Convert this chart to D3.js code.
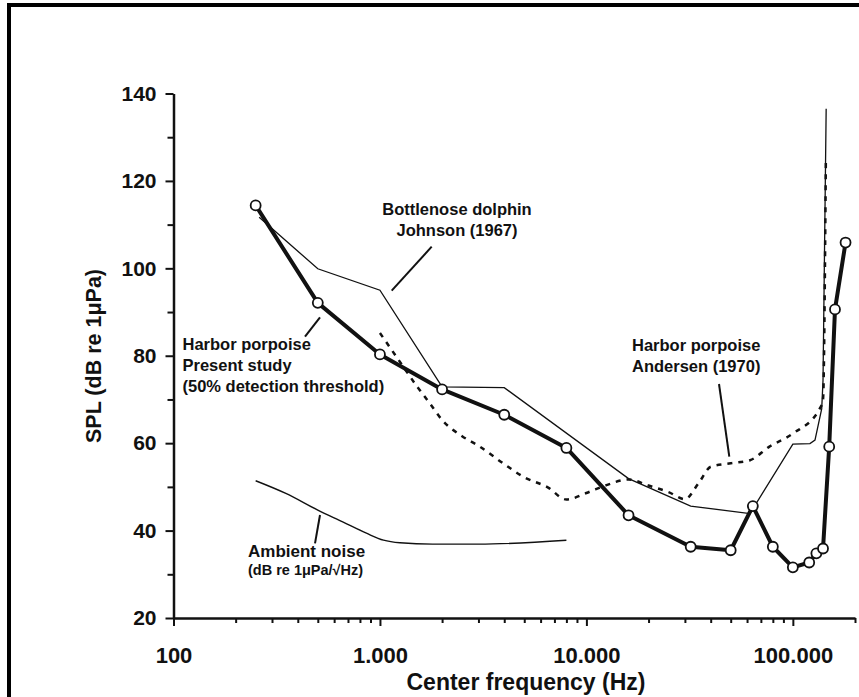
<!DOCTYPE html>
<html>
<head>
<meta charset="utf-8">
<script src="https://cdn.jsdelivr.net/npm/d3@7"></script>
<style>
  body { margin: 0; background: #fff; }
  text { font-family: "Liberation Sans", Arial, sans-serif; font-weight: bold; fill: #111; }
</style>
</head>
<body>
<div id="chart"></div>
<script>
// Harbor porpoise, present study (50% detection threshold)
var studyFreq = [250, 500, 1000, 2000, 4000, 8000, 16000, 32000, 50000, 64000, 80000, 100000, 120000, 130000, 140000, 150000, 160000, 180000];
var studySPL = [114.4, 92.1, 80.3, 72.3, 66.5, 58.9, 43.5, 36.3, 35.5, 45.6, 36.3, 31.6, 32.7, 34.8, 35.9, 59.2, 90.6, 105.9];

// Bottlenose dolphin, Johnson (1967)
var johnsonFreq = [260, 500, 1000, 2000, 4000, 16000, 32000, 62000, 100000, 121000, 128000, 138000, 140000, 145000];
var johnsonSPL = [111.7, 99.9, 95, 72.9, 72.7, 51.9, 45.6, 43.9, 59.8, 59.9, 60.7, 67.9, 74.4, 136.5];

// Harbor porpoise, Andersen (1970)
var andersenFreq = [1000, 1250, 1500, 1750, 2000, 2500, 3000, 4000, 5000, 6500, 8000, 10000, 12500, 16000, 20000, 25000, 30000, 35000, 40000, 50000, 62000, 77000, 100000, 135000, 140000, 144500];
var andersenSPL = [85.2, 78.6, 73.2, 69, 65.3, 61.6, 59.4, 55.2, 52.2, 49.9, 47.1, 48.6, 50.4, 51.7, 50.3, 48.8, 47.2, 50.9, 54.6, 55.4, 56.1, 59.2, 62.2, 67.9, 70, 124.7];

// Ambient noise (dB re 1uPa/sqrt(Hz))
var ambientFreq = [250, 350, 500, 660, 860, 1040, 1250, 1800, 3000, 8000];
var ambientSPL = [51.4, 48.5, 44.7, 42, 39.4, 37.8, 37.2, 36.9, 36.9, 37.8];

// axis ticks
var yMajorTicks = [20, 40, 60, 80, 100, 120, 140];
var yMinorTicks = [30, 50, 70, 90, 110, 130];
var xMajorTicks = [100, 1000, 10000, 100000];
var xMinorTicks = [200, 300, 400, 500, 600, 700, 800, 900,
                   2000, 3000, 4000, 5000, 6000, 7000, 8000, 9000,
                   20000, 30000, 40000, 50000, 60000, 70000, 80000, 90000,
                   200000];

var svgWidth = 859;
var svgHeight = 697;

var chartMargin = {
    top: 93.5,
    left: 173.5,
    right: 4,
    bottom: 79
};

var chartWidth = svgWidth - chartMargin.left - chartMargin.right;
var chartHeight = svgHeight - chartMargin.top - chartMargin.bottom;

var svg = d3.select("#chart")
            .append("svg")
            .attr("width", svgWidth)
            .attr("height", svgHeight);

// frame (top and left edges only)
svg.append("rect").attr("x", 7).attr("y", 3).attr("width", svgWidth - 7).attr("height", 4).attr("fill", "#000");
svg.append("rect").attr("x", 7).attr("y", 3).attr("width", 4).attr("height", svgHeight - 3).attr("fill", "#000");

var chartGroup = svg.append("g")
                    .attr("transform", `translate(${chartMargin.left}, ${chartMargin.top})`);

// scales
var xLogScale = d3.scaleLog()
                  .domain([100, 200000])
                  .range([0, chartWidth]);
var yLinearScale = d3.scaleLinear()
                     .domain([20, 140])
                     .range([chartHeight, 0]);

// thousands with a dot, as in the original figure
var euroFormat = d3.formatLocale({decimal: ",", thousands: ".", grouping: [3], currency: ["", ""]}).format(",");

// x axis: minor ticks then major ticks with labels
chartGroup.append("g")
          .attr("transform", `translate(0, ${chartHeight})`)
          .call(d3.axisBottom(xLogScale).tickValues(xMinorTicks).tickSize(5).tickSizeOuter(0).tickFormat(""))
          .call(g => g.select(".domain").remove());

var xAxisG = chartGroup.append("g")
          .attr("transform", `translate(0, ${chartHeight})`)
          .call(d3.axisBottom(xLogScale).tickValues(xMajorTicks).tickSize(8).tickSizeOuter(0).tickFormat(euroFormat));
xAxisG.selectAll("text")
      .attr("y", 45)
      .attr("dy", null)
      .attr("font-size", "22px");

// y axis
chartGroup.append("g")
          .call(d3.axisLeft(yLinearScale).tickValues(yMinorTicks).tickSize(6).tickSizeOuter(0).tickFormat(""))
          .call(g => g.select(".domain").remove());

var yAxisG = chartGroup.append("g")
          .call(d3.axisLeft(yLinearScale).tickValues(yMajorTicks).tickSize(8).tickSizeOuter(0));
yAxisG.selectAll("text")
      .attr("x", -17)
      .attr("font-size", "21px");

chartGroup.selectAll(".domain").attr("stroke-width", 2.5).attr("stroke", "#111");
chartGroup.selectAll(".tick line").attr("stroke-width", 2).attr("stroke", "#111");
chartGroup.selectAll(".tick text").attr("fill", "#111").attr("font-family", null);

// line generators
var lineGen = d3.line()
                .x(d => xLogScale(d[0]))
                .y(d => yLinearScale(d[1]));

var smoothGen = d3.line()
                  .x(d => xLogScale(d[0]))
                  .y(d => yLinearScale(d[1]))
                  .curve(d3.curveMonotoneX);

// ambient noise
chartGroup.append("path")
          .datum(d3.zip(ambientFreq, ambientSPL))
          .attr("d", smoothGen)
          .attr("fill", "none")
          .attr("stroke", "#111")
          .attr("stroke-width", 1.4);

// Johnson (1967)
chartGroup.append("path")
          .datum(d3.zip(johnsonFreq, johnsonSPL))
          .attr("d", lineGen)
          .attr("fill", "none")
          .attr("stroke", "#111")
          .attr("stroke-width", 1.3);

// Andersen (1970)
chartGroup.append("path")
          .datum(d3.zip(andersenFreq, andersenSPL))
          .attr("d", smoothGen)
          .attr("fill", "none")
          .attr("stroke", "#111")
          .attr("stroke-width", 2.5)
          .attr("stroke-dasharray", "5,6");

// present study
var studyData = d3.zip(studyFreq, studySPL);
chartGroup.append("path")
          .datum(studyData)
          .attr("d", lineGen)
          .attr("fill", "none")
          .attr("stroke", "#111")
          .attr("stroke-width", 4)
          .attr("stroke-linejoin", "round");

chartGroup.selectAll("circle")
          .data(studyData)
          .enter()
          .append("circle")
          .attr("cx", d => xLogScale(d[0]))
          .attr("cy", d => yLinearScale(d[1]))
          .attr("r", 5)
          .attr("fill", "#fff")
          .attr("stroke", "#111")
          .attr("stroke-width", 1.8);

// annotations
function leader(x1, y1, x2, y2) {
    svg.append("line")
       .attr("x1", x1).attr("y1", y1)
       .attr("x2", x2).attr("y2", y2)
       .attr("stroke", "#111")
       .attr("stroke-width", 2);
}
function label(x, y, txt, size, anchor) {
    svg.append("text")
       .attr("x", x)
       .attr("y", y)
       .attr("font-size", size)
       .attr("text-anchor", anchor || "start")
       .text(txt);
}

label(457, 215, "Bottlenose dolphin", "16.5px", "middle");
label(457, 236, "Johnson (1967)", "16.5px", "middle");
leader(431.7, 246.7, 391.7, 290.7);

label(182.5, 350, "Harbor porpoise", "16.5px");
label(182.5, 371, "Present study", "16.5px");
label(182.5, 392, "(50% detection threshold)", "16.5px");
leader(320, 317.3, 305, 336.7);

label(632, 351, "Harbor porpoise", "16.5px");
label(632, 372, "Andersen (1970)", "16.5px");
leader(719, 384, 729.3, 456.7);

label(248, 556.5, "Ambient noise", "17px");
label(248, 575, "(dB re 1\u03bcPa/\u221aHz)", "14.5px");
leader(320, 515, 315, 543.3);

// axis titles
svg.append("text")
   .attr("transform", "translate(101, 356) rotate(-90)")
   .attr("text-anchor", "middle")
   .attr("font-size", "21.5px")
   .text("SPL (dB re 1\u03bcPa)");

svg.append("text")
   .attr("x", 526)
   .attr("y", 690)
   .attr("text-anchor", "middle")
   .attr("font-size", "23px")
   .text("Center frequency (Hz)");
</script>
</body>
</html>
